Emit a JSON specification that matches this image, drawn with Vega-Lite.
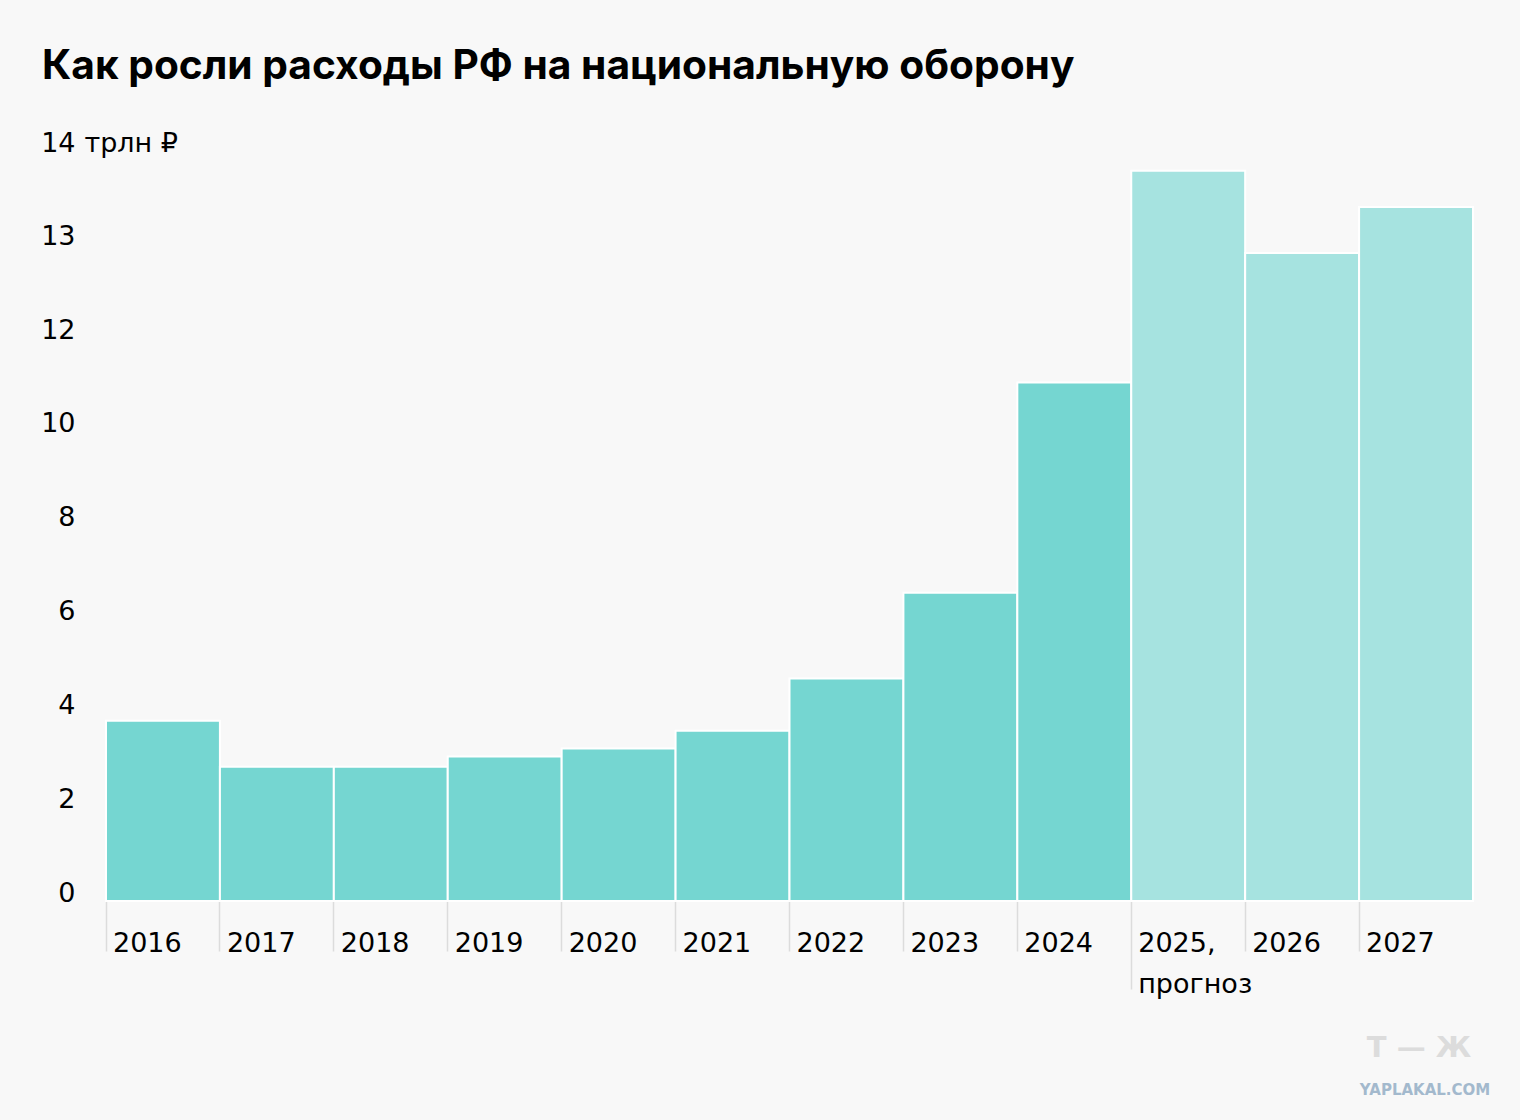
{
  "$schema": "https://vega.github.io/schema/vega-lite/v6.json",
  "autosize": {"type": "none"},
  "padding": {"left": 106, "top": 151, "right": 47, "bottom": 219},
  "width": 1367,
  "height": 750,
  "background": "#f8f8f8",
  "title": {
    "text": "Как росли расходы РФ на национальную оборону",
    "anchor": "start",
    "frame": "group",
    "dx": -64,
    "offset": 9,
    "baseline": "alphabetic",
    "font": "Inter",
    "fontSize": 40.7,
    "fontWeight": "bold",
    "color": "#000000"
  },
  "data": {
    "values": [
      {"year": "2016", "value": 3.84, "kind": "факт"},
      {"year": "2017", "value": 2.86, "kind": "факт"},
      {"year": "2018", "value": 2.86, "kind": "факт"},
      {"year": "2019", "value": 3.08, "kind": "факт"},
      {"year": "2020", "value": 3.25, "kind": "факт"},
      {"year": "2021", "value": 3.63, "kind": "факт"},
      {"year": "2022", "value": 4.74, "kind": "факт"},
      {"year": "2023", "value": 6.57, "kind": "факт"},
      {"year": "2024", "value": 11.05, "kind": "факт"},
      {"year": "2025, прогноз", "value": 13.79, "kind": "прогноз"},
      {"year": "2026", "value": 12.91, "kind": "прогноз"},
      {"year": "2027", "value": 13.4, "kind": "прогноз"}
    ]
  },
  "layer": [
    {
      "mark": {"type": "bar", "stroke": "#ffffff", "strokeWidth": 2},
      "encoding": {
        "x": {
          "field": "year",
          "type": "nominal",
          "sort": null,
          "scale": {"paddingInner": 0, "paddingOuter": 0},
          "axis": {
            "title": null,
            "bandPosition": 0,
            "domain": false,
            "ticks": true,
            "tickColor": "#dcdcdc",
            "tickWidth": 1.5,
            "tickSize": {"condition": {"test": "datum.value === '2025, прогноз'", "value": 88}, "value": 50},
            "labelAngle": 0,
            "labelAlign": "left",
            "labelBaseline": "alphabetic",
            "labelPadding": {"condition": {"test": "datum.value === '2025, прогноз'", "value": -38}, "value": 0},
            "labelOffset": -50,
            "labelFont": "DejaVu Sans",
            "labelFontSize": 27,
            "labelColor": "#000000",
            "labelLineHeight": 41,
            "labelExpr": "datum.value === '2025, прогноз' ? ['2025,', 'прогноз'] : datum.label"
          }
        },
        "y": {
          "field": "value",
          "type": "quantitative",
          "scale": {"domain": [0, 12, 14], "range": [750, 187, 0], "nice": false, "zero": false},
          "axis": {
            "title": "трлн ₽",
            "titleAngle": 0,
            "titleAlign": "left",
            "titleBaseline": "alphabetic",
            "titleX": -22,
            "titleY": 0,
            "titleFont": "DejaVu Sans",
            "titleFontSize": 27,
            "titleFontWeight": "normal",
            "titleColor": "#000000",
            "values": [0, 2, 4, 6, 8, 10, 12, 13, 14],
            "domain": false,
            "ticks": false,
            "grid": false,
            "labelAlign": "right",
            "labelBaseline": "alphabetic",
            "labelPadding": 31,
            "labelFont": "DejaVu Sans",
            "labelFontSize": 27,
            "labelColor": "#000000"
          }
        },
        "color": {
          "field": "kind",
          "type": "nominal",
          "scale": {"domain": ["факт", "прогноз"], "range": ["#75d6d1", "#a6e3e0"]},
          "legend": null
        }
      }
    },
    {
      "data": {"values": [{"label": "Т — Ж"}]},
      "mark": {"type": "text", "align": "center", "baseline": "alphabetic", "dx": 3, "dy": 156, "font": "DejaVu Sans", "fontWeight": "bold", "fontSize": 29, "color": "#dcdcdc"},
      "encoding": {
        "x": {"datum": "2027"},
        "y": {"datum": 0},
        "text": {"field": "label"}
      }
    },
    {
      "data": {"values": [{"label": "YAPLAKAL.COM"}]},
      "mark": {"type": "text", "align": "center", "baseline": "alphabetic", "dx": 9, "dy": 194, "font": "DejaVu Sans", "fontWeight": "bold", "fontSize": 15, "color": "#a3b9cd"},
      "encoding": {
        "x": {"datum": "2027"},
        "y": {"datum": 0},
        "text": {"field": "label"}
      }
    }
  ],
  "config": {"view": {"stroke": null}}
}
